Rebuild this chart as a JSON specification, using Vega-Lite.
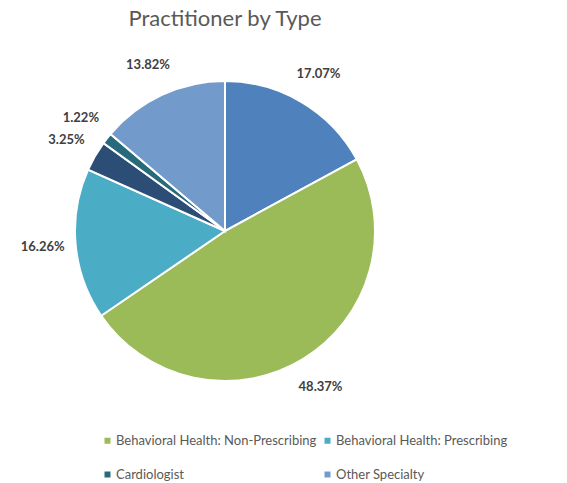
{
  "$schema": "https://vega.github.io/schema/vega-lite/v6.json",
  "width": 450,
  "height": 382,
  "autosize": {"type": "none"},
  "padding": {"left": 0, "top": 40, "right": 117, "bottom": 61},
  "background": "white",
  "title": {
    "text": "Practitioner by Type",
    "anchor": "middle",
    "font": "Lato",
    "fontSize": 22,
    "fontWeight": "normal",
    "color": "#595959",
    "offset": 9
  },
  "data": {
    "values": [
      {"type": "Primary Care", "share": 0.1707, "rank": 1},
      {"type": "Behavioral Health: Non-Prescribing", "share": 0.4837, "rank": 2},
      {"type": "Behavioral Health: Prescribing", "share": 0.1626, "rank": 3},
      {"type": "Specialist", "share": 0.0325, "rank": 4},
      {"type": "Cardiologist", "share": 0.0122, "rank": 5},
      {"type": "Other Specialty", "share": 0.1382, "rank": 6}
    ]
  },
  "encoding": {
    "theta": {"field": "share", "type": "quantitative", "stack": true},
    "order": {"field": "rank", "type": "quantitative"}
  },
  "layer": [
    {
      "mark": {"type": "arc", "outerRadius": 150, "stroke": "white", "strokeWidth": 2},
      "encoding": {
        "color": {
          "field": "type",
          "type": "nominal",
          "scale": {
            "domain": ["Primary Care", "Behavioral Health: Non-Prescribing", "Behavioral Health: Prescribing", "Specialist", "Cardiologist", "Other Specialty"],
            "range": ["#4F81BD", "#9BBB59", "#4BACC6", "#2C4D75", "#276A7C", "#729ACA"]
          },
          "legend": {
            "values": ["Behavioral Health: Non-Prescribing", "Cardiologist", "Behavioral Health: Prescribing", "Other Specialty"],
            "title": null,
            "orient": "none",
            "legendX": 101,
            "legendY": 394,
            "columns": 2,
            "columnPadding": 4,
            "rowPadding": 20,
            "symbolType": "square",
            "symbolSize": 36,
            "symbolStrokeWidth": 0,
            "labelOffset": 2,
            "labelFont": "Lato",
            "labelFontSize": 13,
            "labelColor": "#595959",
            "labelLimit": 300
          }
        }
      }
    },
    {
      "mark": {"type": "text", "radius": 183, "font": "Lato", "fontSize": 13, "fontWeight": "bold", "color": "#404040"},
      "encoding": {
        "text": {"field": "share", "type": "quantitative", "format": ".2%"}
      }
    }
  ]
}
